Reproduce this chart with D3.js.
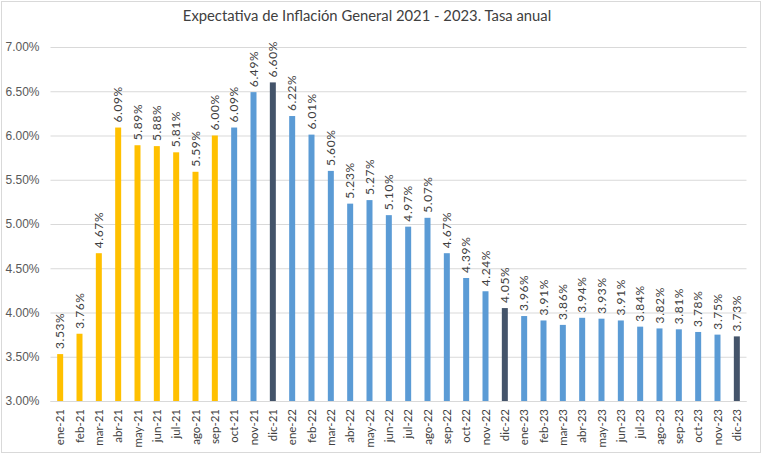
<!DOCTYPE html>
<html><head><meta charset="utf-8">
<script src="https://cdn.jsdelivr.net/npm/d3@7"></script>
<style>body{margin:0;background:#fff;}svg{display:block;font-family:Lato,"Open Sans",sans-serif;}</style>
</head><body><svg id="c" width="763" height="455"></svg>
<script>
const categories = ["ene-21","feb-21","mar-21","abr-21","may-21","jun-21","jul-21","ago-21","sep-21","oct-21","nov-21","dic-21",
"ene-22","feb-22","mar-22","abr-22","may-22","jun-22","jul-22","ago-22","sep-22","oct-22","nov-22","dic-22",
"ene-23","feb-23","mar-23","abr-23","may-23","jun-23","jul-23","ago-23","sep-23","oct-23","nov-23","dic-23"];
const values = [3.53,3.76,4.67,6.09,5.89,5.88,5.81,5.59,6.00,6.09,6.49,6.60,
6.22,6.01,5.60,5.23,5.27,5.10,4.97,5.07,4.67,4.39,4.24,4.05,
3.96,3.91,3.86,3.94,3.93,3.91,3.84,3.82,3.81,3.78,3.75,3.73];
const groups = ["a","a","a","a","a","a","a","a","a","b","b","c",
"b","b","b","b","b","b","b","b","b","b","b","c",
"b","b","b","b","b","b","b","b","b","b","b","c"];
const yTicks = [3.0,3.5,4.0,4.5,5.0,5.5,6.0,6.5,7.0];
const colors = {a:"#FFC000", b:"#5B9BD5", c:"#44546A"};
const title = "Expectativa de Inflación General 2021 - 2023. Tasa anual";

const svg = d3.select("#c");
svg.append("rect").attr("x",1.5).attr("y",1.5).attr("width",759).attr("height",451)
  .attr("fill","#fff").attr("stroke","#d9d9d9");

const x = d3.scaleBand().domain(categories).range([50.5, 746.5]).paddingInner(0.69).paddingOuter(0.345);
const y = d3.scaleLinear().domain([3,7]).range([401, 47]);

svg.append("text").attr("x",367).attr("y",21).attr("text-anchor","middle")
  .attr("font-size",14.8).attr("fill","#404040").text(title);

const yAxis = svg.append("g").attr("transform","translate(50.5,0)")
  .call(d3.axisLeft(y).tickValues(yTicks).tickSize(-696).tickFormat(d=>d.toFixed(2)+"%"));
yAxis.select(".domain").remove();
yAxis.selectAll("line").attr("stroke","#d9d9d9");
yAxis.selectAll("text").attr("font-size",12).attr("fill","#595959").attr("x",-11).style("font-family","inherit");

svg.append("line").attr("x1",50.5).attr("x2",746.5).attr("y1",y(3)+0.5).attr("y2",y(3)+0.5).attr("stroke","#d9d9d9");

svg.selectAll("rect.bar").data(values).enter().append("rect").attr("class","bar")
  .attr("x",(d,i)=>x(categories[i])).attr("width",x.bandwidth())
  .attr("y",d=>y(d)).attr("height",d=>y(3)-y(d))
  .attr("fill",(d,i)=>colors[groups[i]]);

svg.selectAll("text.val").data(values).enter().append("text").attr("class","val")
  .attr("transform",(d,i)=>`translate(${x(categories[i])+x.bandwidth()/2+4},${y(d)-5}) rotate(-90)`)
  .attr("font-size",12).attr("letter-spacing",0.6).attr("fill","#404040").text(d=>d.toFixed(2)+"%");

svg.selectAll("text.cat").data(categories).enter().append("text").attr("class","cat")
  .attr("transform",(d)=>`translate(${x(d)+x.bandwidth()/2+4},${y(3)+8}) rotate(-90)`)
  .attr("text-anchor","end").attr("font-size",11.5).attr("fill","#404040").text(d=>d);
</script></body></html>
